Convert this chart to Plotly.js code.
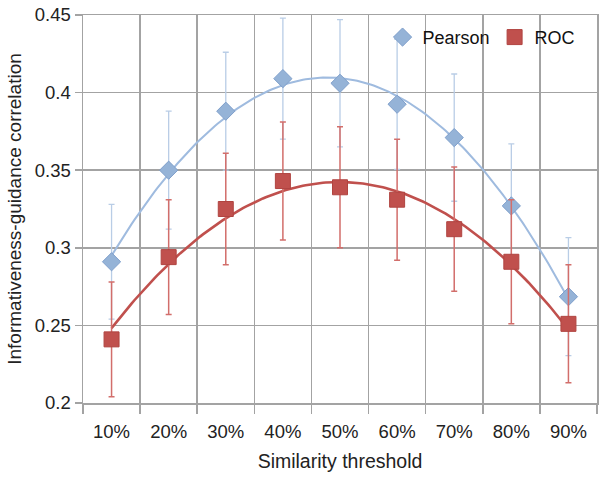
<!DOCTYPE html>
<html>
<head>
<meta charset="utf-8">
<script src="https://cdn.plot.ly/plotly-3.0.1.min.js"></script>
<style>html,body{margin:0;padding:0;background:#fff;}#chart{width:604px;height:479px;}</style>
</head>
<body>
<div id="chart"></div>
<script>
var categories = ["10%", "20%", "30%", "40%", "50%", "60%", "70%", "80%", "90%"];
var pearson = [0.291, 0.350, 0.388, 0.409, 0.406, 0.3925, 0.371, 0.327, 0.2685];
var pearsonErr = [0.037, 0.038, 0.038, 0.039, 0.041, 0.042, 0.041, 0.040, 0.038];
var roc = [0.241, 0.294, 0.325, 0.343, 0.339, 0.331, 0.312, 0.291, 0.251];
var rocErr = [0.037, 0.037, 0.036, 0.038, 0.039, 0.039, 0.040, 0.040, 0.038];

var xs = categories.map(function (c, i) { return i + 1; });

// Quadratic least-squares trendline (as in the spreadsheet's polynomial trendline)
function quadFit(x, y) {
  var n = x.length, s = [0,0,0,0,0], t = [0,0,0];
  for (var i = 0; i < n; i++) {
    var p = 1;
    for (var k = 0; k < 5; k++) { s[k] += p; if (k < 3) t[k] += p * y[i]; p *= x[i]; }
  }
  var A = [[s[0], s[1], s[2], t[0]], [s[1], s[2], s[3], t[1]], [s[2], s[3], s[4], t[2]]];
  for (var c = 0; c < 3; c++) {
    for (var r = c + 1; r < 3; r++) {
      var f = A[r][c] / A[c][c];
      for (var j = c; j < 4; j++) A[r][j] -= f * A[c][j];
    }
  }
  var co = [0,0,0];
  for (var r2 = 2; r2 >= 0; r2--) {
    var v = A[r2][3];
    for (var j2 = r2 + 1; j2 < 3; j2++) v -= A[r2][j2] * co[j2];
    co[r2] = v / A[r2][r2];
  }
  return function (xv) { return co[0] + co[1] * xv + co[2] * xv * xv; };
}
function curve(y) {
  var f = quadFit(xs, y), cx = [], cy = [];
  for (var i = 0; i <= 160; i++) { var xv = 1 + 8 * i / 160; cx.push(xv); cy.push(f(xv)); }
  return {x: cx, y: cy};
}
var pc = curve(pearson), rc = curve(roc);

var traces = [
  {x: pc.x, y: pc.y, mode: 'lines', line: {color: '#9FBBDF', width: 2}, showlegend: false, hoverinfo: 'skip'},
  {x: rc.x, y: rc.y, mode: 'lines', line: {color: '#C0504D', width: 2.6}, showlegend: false, hoverinfo: 'skip'},
  {x: xs, y: pearson, name: 'Pearson', mode: 'markers',
   marker: {symbol: 'diamond', size: 14, color: '#95B3D7', line: {color: '#7F9FCB', width: 1}},
   error_y: {type: 'data', array: pearsonErr, visible: true, color: '#B9CDE6', thickness: 1.3, width: 3}},
  {x: xs, y: roc, name: 'ROC', mode: 'markers',
   marker: {symbol: 'square', size: 15, color: '#C0504D', line: {color: '#B04440', width: 1}},
   error_y: {type: 'data', array: rocErr, visible: true, color: '#D26E6B', thickness: 1.5, width: 3}}
];

var gridColor = '#A3A3A3';
var layout = {
  width: 604, height: 479,
  margin: {l: 83, r: 7, t: 15, b: 76},
  paper_bgcolor: '#ffffff', plot_bgcolor: '#ffffff',
  font: {family: '"Liberation Sans", Arial, sans-serif', size: 18, color: '#222222'},
  showlegend: true,
  legend: {orientation: 'h', x: 0.968, xanchor: 'right', y: 0.99, yanchor: 'top',
           bgcolor: 'rgba(0,0,0,0)', font: {size: 18, color: '#111111'}, itemwidth: 30, tracegroupgap: 0},
  xaxis: {
    range: [0.5, 9.5], tickmode: 'array', tickvals: xs, ticktext: categories,
    showgrid: false, ticks: '', zeroline: false,
    showline: true, linecolor: gridColor, linewidth: 1.5, mirror: true,
    tickfont: {size: 18.5}, ticklabelstandoff: 11,
    minor: {tick0: 0.5, dtick: 1, showgrid: true, gridcolor: gridColor, gridwidth: 1.5,
            ticks: 'outside', ticklen: 9, tickcolor: gridColor, tickwidth: 1.5},
    title: {text: 'Similarity threshold', font: {size: 19.5}, standoff: 13},
    fixedrange: true
  },
  yaxis: {
    range: [0.2, 0.45], tick0: 0.2, dtick: 0.05,
    showgrid: true, gridcolor: gridColor, gridwidth: 1.5, zeroline: false,
    showline: true, linecolor: gridColor, linewidth: 1.5, mirror: true,
    ticks: 'outside', ticklen: 7, tickcolor: gridColor, tickwidth: 1.5,
    tickfont: {size: 18.5},
    title: {text: 'Informativeness-guidance correlation', font: {size: 19}, standoff: 8},
    fixedrange: true
  }
};

Plotly.newPlot('chart', traces, layout, {displayModeBar: false, staticPlot: true});
</script>
</body>
</html>
